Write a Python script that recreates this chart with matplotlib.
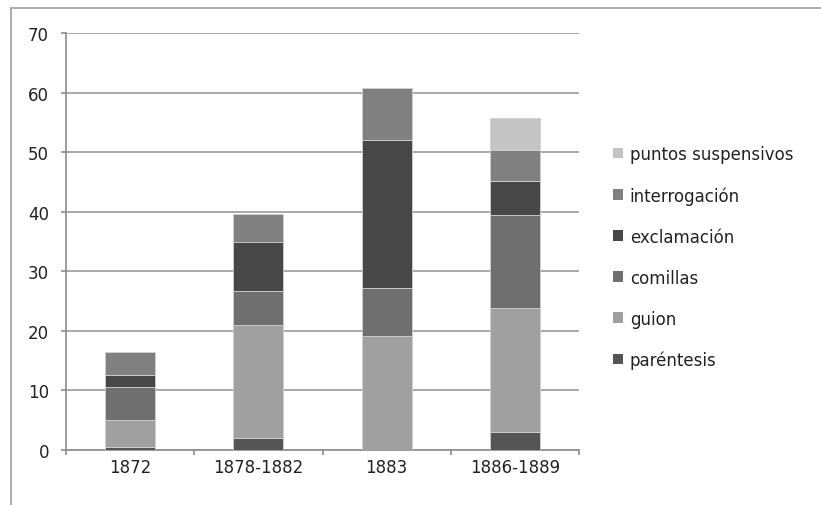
import matplotlib
matplotlib.use("Agg")
import matplotlib.pyplot as plt
from matplotlib.lines import Line2D
from matplotlib.patches import Patch
import numpy as np

plt.rcParams['font.family'] = ['DejaVu Sans']

categories = ["1872", "1878-1882", "1883", "1886-1889"]
parentesis = [0.5, 2.0, 0.0, 3.0]
guion = [4.6, 19.0, 19.2, 20.8]
comillas = [5.4, 5.7, 8.0, 15.6]
exclamacion = [2.1, 8.3, 24.9, 5.8]
interrogacion = [3.9, 4.6, 8.6, 5.1]
puntos_suspensivos = [0.0, 0.0, 0.0, 5.4]

series = [
    ("paréntesis", parentesis, "#555555"),
    ("guion", guion, "#a0a0a0"),
    ("comillas", comillas, "#6f6f6f"),
    ("exclamación", exclamacion, "#474747"),
    ("interrogación", interrogacion, "#808080"),
    ("puntos suspensivos", puntos_suspensivos, "#c4c4c4"),
]

W, H = 821, 506
fig = plt.figure(figsize=(W / 100, H / 100), dpi=100)
ax = fig.add_axes([66 / W, 1 - 451 / H, (579 - 66) / W, (451 - 34) / H])

x = np.arange(len(categories))
bottom = np.zeros(len(categories))
for name, vals, color in series:
    vals = np.array(vals)
    ax.bar(x, vals, width=0.39, bottom=bottom, color=color,
           edgecolor="#d0d0d0", linewidth=0.6, zorder=3)
    bottom += vals

ax.set_xlim(-0.5, len(categories) - 0.5)
ax.set_ylim(0, 70)
ax.set_yticks(np.arange(0, 71, 10))
ax.set_xticks(x)
ax.set_xticklabels(categories)
ax.yaxis.grid(True, color="#9a9a9a", linewidth=1.2, zorder=0)
ax.set_axisbelow(True)

for s in ["top", "right"]:
    ax.spines[s].set_visible(False)
for s in ["left", "bottom"]:
    ax.spines[s].set_color("#8c8c8c")
    ax.spines[s].set_linewidth(1.2)

ax.tick_params(axis="y", length=3.6, color="#8c8c8c", width=1.2,
               labelsize=12, labelcolor="#222222", pad=8.6)
ax.tick_params(axis="x", length=0, labelsize=12,
               labelcolor="#222222", pad=6)
# category separator ticks on the x axis
ax.set_xticks(np.arange(-0.5, len(categories)), minor=True)
ax.tick_params(axis="x", which="minor", length=3.6, color="#8c8c8c", width=1.2)

handles = [Patch(facecolor=c, edgecolor="none", label=n)
           for n, _, c in series][::-1]
fig.legend(handles=handles, loc="center left",
           bbox_to_anchor=(598 / W, 1 - 258 / H), frameon=False,
           fontsize=12, handlelength=0.6, handleheight=0.6,
           handletextpad=0.4, labelspacing=1.38, labelcolor="#222222")

# outer chart frame
fig.add_artist(Line2D([11 / W, 11 / W], [0, 1 - 9 / H],
                      transform=fig.transFigure, color="#a0a0a0", linewidth=1.2))
fig.add_artist(Line2D([11 / W, 1], [1 - 9 / H, 1 - 9 / H],
                      transform=fig.transFigure, color="#a0a0a0", linewidth=1.2))

fig.savefig("out.png", dpi=100)
